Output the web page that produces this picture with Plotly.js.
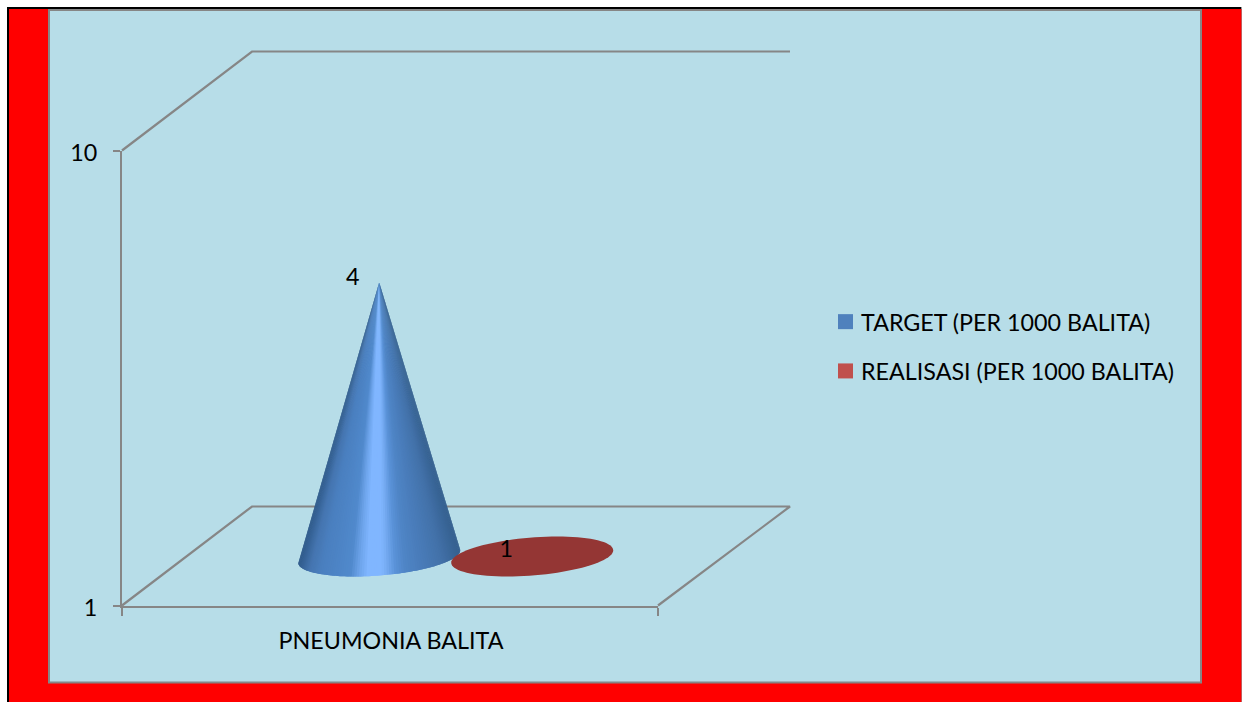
<!DOCTYPE html>
<html>
<head>
<meta charset="utf-8">
<script src="https://cdn.plot.ly/plotly-3.0.1.min.js"></script>
<style>html,body{margin:0;padding:0;background:#fff}#chart{width:1242px;height:702px}</style>
</head>
<body>
<div id="chart"></div>
<script>
// Data
const categories = ['PNEUMONIA BALITA'];
const targetValues = [4];
const realisasiValues = [1];
const seriesNames = ['TARGET (PER 1000 BALITA)', 'REALISASI (PER 1000 BALITA)'];
const valueTicks = [1, 10];

// Page layout of the framed chart, in pixels
const W = 1242, H = 702;
const plot = {left: 122, right: 658, bottom: 605.5, top: 150.5};
const depth = {dx: 130, dy: 99};
const pxPerDecade = plot.bottom - plot.top;

// Shading stops across the cone, left silhouette to right silhouette
const coneStops = [
  [0.00, '#2f5a8a'], [0.07, '#4575b0'], [0.14, '#4a7fbf'], [0.32, '#5089cc'],
  [0.38, '#6ea5ec'], [0.43, '#80b6ff'], [0.51, '#80b6ff'], [0.54, '#78aef5'],
  [0.60, '#5a92d8'], [0.66, '#4f85c6'], [0.75, '#4a7dbb'], [0.88, '#4372aa'],
  [1.00, '#35608f']
];

function hexToRgb(h) { return [1, 3, 5].map(i => parseInt(h.substr(i, 2), 16)); }
function shade(t) {
  for (let i = 1; i < coneStops.length; i++) {
    if (t <= coneStops[i][0]) {
      const [t0, c0] = coneStops[i - 1], [t1, c1] = coneStops[i];
      const f = (t - t0) / (t1 - t0), a = hexToRgb(c0), b = hexToRgb(c1);
      return 'rgb(' + a.map((v, k) => Math.round(v + (b[k] - v) * f)).join(',') + ')';
    }
  }
  return coneStops[coneStops.length - 1][1];
}

// Oblique projection: a step up the screen is a multiplicative step on the log axis
const lift = px => Math.pow(10, px / pxPerDecade);

// Base ellipse of a series at a cluster offset from the category centre
const baseRadius = 81, tiltY = 6.2, minorY = 19;
const midDepth = 0.5;
const catCentre = (plot.left + plot.right) / 2 + depth.dx * midDepth + 0.7;
const clusterOffset = 76.5;
const baseLift = depth.dy * midDepth - 0.5;
function basePoint(cx, a) {
  return {
    x: cx + baseRadius * Math.cos(a),
    y: lift(baseLift + tiltY * Math.cos(a) - minorY * Math.sin(a))
  };
}

const overlay = {xaxis: 'x2', yaxis: 'y2', showlegend: false, hoverinfo: 'skip'};
const traces = [];

// Axis carrier for the category and value axes
traces.push({x: categories, y: [1], mode: 'lines', showlegend: false, hoverinfo: 'skip'});

// Floor and back edges of the box
const edge = {color: '#868686', width: 2.2};
function edgeLine(xs, ys) {
  traces.push(Object.assign({x: xs, y: ys, mode: 'lines', line: edge}, overlay));
}
edgeLine(
  [plot.left, plot.left + depth.dx, plot.right + depth.dx + 2, plot.right],
  [1, lift(depth.dy), lift(depth.dy), 1]
);
edgeLine(
  [plot.left, plot.left + depth.dx, plot.right + depth.dx + 2],
  [10, 10 * lift(depth.dy), 10 * lift(depth.dy)]
);

// Target cone: slices from the apex to the front arc of the base, each one
// reaching under its neighbour so no seam shows between them
const targetX = catCentre - clusterOffset;
const apex = {x: targetX, y: targetValues[0] * lift(baseLift)};
const startAngle = Math.PI - 0.03, endAngle = -0.03;
const slices = 100;
const angleAt = i => startAngle + (endAngle - startAngle) * Math.min(i, slices) / slices;
for (let i = 0; i < slices; i++) {
  const xs = [apex.x], ys = [apex.y];
  for (const a of [angleAt(i), angleAt(i + 1), angleAt(i + 2)]) {
    const p = basePoint(targetX, a);
    xs.push(p.x);
    ys.push(p.y);
  }
  xs.push(apex.x);
  ys.push(apex.y);
  const mid = basePoint(targetX, angleAt(i + 0.5));
  const c = shade((mid.x - (targetX - baseRadius)) / (2 * baseRadius));
  traces.push(Object.assign({x: xs, y: ys, mode: 'none', fill: 'toself', fillcolor: c}, overlay));
}

// Realisasi sits on the floor: value 1 leaves only its base disc
const realX = catCentre + clusterOffset;
const discX = [], discY = [];
for (let i = 0; i <= 90; i++) {
  const p = basePoint(realX, i / 90 * 2 * Math.PI);
  discX.push(p.x);
  discY.push(p.y * realisasiValues[0]);
}
traces.push(Object.assign({x: discX, y: discY, mode: 'none', fill: 'toself', fillcolor: '#943634'}, overlay));

// Value labels
traces.push(Object.assign({
  x: [targetX - 26.5, realX - 26],
  y: [targetValues[0] * lift(baseLift + 3.5), realisasiValues[0] * lift(baseLift + 5.5)],
  mode: 'text', text: [String(targetValues[0]), String(realisasiValues[0])],
  textposition: 'middle center', textfont: {family: 'Lato', size: 23.3, color: '#000'}
}, overlay));

// Legend entries
[['#4f81bd', 0], ['#c0504d', 1]].forEach(([col, i]) => {
  traces.push({
    x: [null], y: [null], name: seriesNames[i], mode: 'markers', legendgroup: 'g' + i,
    marker: {symbol: 'square', size: 15, color: col}, xaxis: 'x2', yaxis: 'y2', hoverinfo: 'skip'
  });
});

const axisFont = {family: 'Lato', size: 23.3, color: '#000'};
const layout = {
  width: W, height: H,
  margin: {l: 0, r: 0, t: 0, b: 0, pad: 0},
  paper_bgcolor: '#ffffff', plot_bgcolor: 'rgba(0,0,0,0)',
  showlegend: true,
  legend: {
    x: 821 / W, y: 1 - 300 / H, xanchor: 'left', yanchor: 'top',
    font: {family: 'Lato', size: 23.3, color: '#000'},
    bgcolor: 'rgba(0,0,0,0)', tracegroupgap: 16, traceorder: 'grouped', itemwidth: 30
  },
  xaxis: {
    type: 'category', domain: [plot.left / W, plot.right / W], range: [-0.5, 0.5],
    anchor: 'y', tickson: 'boundaries', ticks: 'outside', ticklen: 8, tickwidth: 2, tickcolor: '#868686',
    showline: true, linecolor: '#868686', linewidth: 2, showgrid: false, zeroline: false,
    tickfont: axisFont, ticklabelstandoff: 14, ticklabelshift: 1, fixedrange: true
  },
  yaxis: {
    type: 'log', domain: [(H - plot.bottom) / H, (H - plot.top) / H], range: [0, 1],
    anchor: 'x', tickmode: 'array', tickvals: valueTicks, ticktext: valueTicks.map(String),
    ticks: 'outside', ticklen: 7, tickwidth: 2, tickcolor: '#868686',
    showline: true, linecolor: '#868686', linewidth: 2, showgrid: false, zeroline: false,
    tickfont: axisFont, ticklabelstandoff: 11, ticklabelshift: 2, fixedrange: true
  },
  xaxis2: {domain: [0, 1], range: [0, W], anchor: 'y2', visible: false, fixedrange: true},
  yaxis2: {
    type: 'log', domain: [0, 1], anchor: 'x2', visible: false, fixedrange: true,
    range: [-(H - plot.bottom) / pxPerDecade, plot.bottom / pxPerDecade]
  },
  shapes: [
    {type: 'rect', xref: 'paper', yref: 'paper', x0: 7 / W, x1: 1241.4 / W, y0: 0, y1: 1 - 7 / H, fillcolor: '#000', line: {width: 0}, layer: 'below'},
    {type: 'rect', xref: 'paper', yref: 'paper', x0: 9 / W, x1: 1241.4 / W, y0: 0, y1: 1 - 9 / H, fillcolor: '#ff0000', line: {width: 0}, layer: 'below'},
    {type: 'rect', xref: 'paper', yref: 'paper', x0: 49 / W, x1: 1201 / W, y0: 1 - 682.4 / H, y1: 1 - 10 / H, fillcolor: '#b7dde8', line: {color: '#868686', width: 2}, layer: 'below'}
  ]
};

Plotly.newPlot('chart', traces, layout, {displayModeBar: false, staticPlot: true}).then(gd => {
  // Tighten the gap between legend swatches and their labels
  gd.querySelectorAll('.legend .legendsymbols').forEach(g => g.setAttribute('transform', 'translate(4.5,0)'));
});
</script>
</body>
</html>
